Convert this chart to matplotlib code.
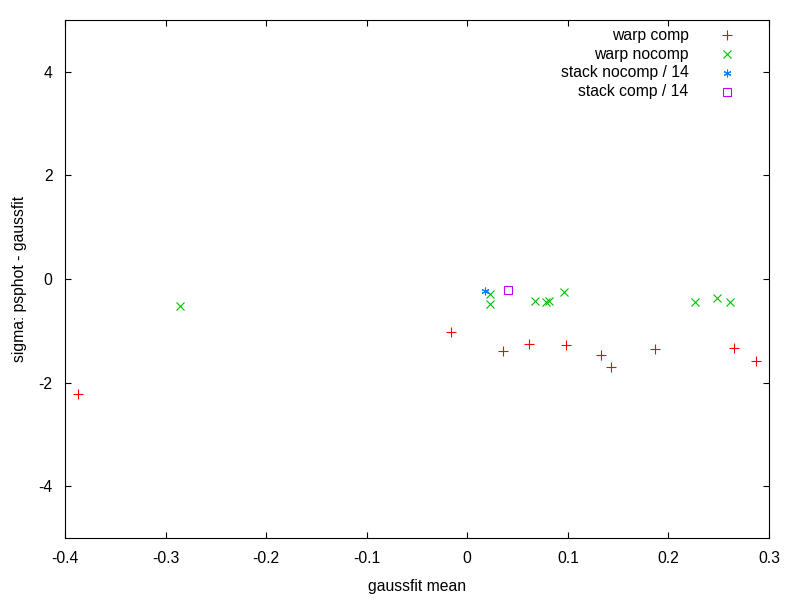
import matplotlib
matplotlib.use("Agg")
import matplotlib.pyplot as plt

# values
warp_comp_x = [-0.387, -0.016, 0.036, 0.061, 0.098, 0.133, 0.143, 0.187, 0.265, 0.287]
warp_comp_y = [-2.22, -1.02, -1.39, -1.26, -1.28, -1.47, -1.70, -1.35, -1.33, -1.58]

warp_nocomp_x = [-0.286, 0.023, 0.023, 0.067, 0.078, 0.081, 0.096, 0.226, 0.248, 0.261]
warp_nocomp_y = [-0.53, -0.28, -0.49, -0.43, -0.44, -0.42, -0.26, -0.45, -0.37, -0.45]

stack_nocomp_x = [0.018]
stack_nocomp_y = [-0.24]

stack_comp_x = [0.040]
stack_comp_y = [-0.22]

labels = ["warp comp", "warp nocomp", "stack nocomp / 14", "stack comp / 14"]
colors = ["#ff0000", "#00c000", "#0080ff", "#c000ff"]

xticks = [-0.4, -0.3, -0.2, -0.1, 0, 0.1, 0.2, 0.3]
yticks = [-4, -2, 0, 2, 4]

plt.rcParams["font.family"] = ["Liberation Sans", "DejaVu Sans"]
plt.rcParams["font.size"] = 11.3

fig = plt.figure(figsize=(8, 6), dpi=100)
ax = fig.add_axes([0.08125, 0.1033, 0.88, 0.8634])

ms = 6.5
mew = 0.8
styles = [
    dict(marker="+", ms=ms, mew=mew, mfc="none"),
    dict(marker="x", ms=ms * 0.85, mew=mew, mfc="none"),
    dict(marker=(6, 2, 0), ms=ms * 0.85, mew=mew, mfc="none"),
    dict(marker="s", ms=ms * 0.8, mew=mew, mfc="none"),
]

series = [
    (warp_comp_x, warp_comp_y),
    (warp_nocomp_x, warp_nocomp_y),
    (stack_nocomp_x, stack_nocomp_y),
    (stack_comp_x, stack_comp_y),
]

for (xs, ys), c, st in zip(series, colors, styles):
    ax.plot(xs, ys, ls="none", color=c, mec=c, **st)

ax.set_xlim(-0.4, 0.3)
ax.set_ylim(-5, 5)
ax.set_xticks(xticks)
ax.set_xticklabels(["-0.4", "-0.3", "-0.2", "-0.1", "0", "0.1", "0.2", "0.3"])
ax.set_yticks(yticks)
ax.set_yticklabels([str(v) for v in yticks])
ax.tick_params(direction="in", top=True, right=True, length=4.5, width=0.8)
ax.tick_params(axis="y", pad=9)
ax.tick_params(axis="x", pad=9)
for sp in ax.spines.values():
    sp.set_linewidth(0.8)

ax.set_xlabel("gaussfit mean", labelpad=10)
ax.set_ylabel("sigma: psphot - gaussfit", labelpad=8)

# gnuplot style key: text right aligned, marker on the right
key_y = [0.971, 0.934, 0.898, 0.861]
for lab, c, st, ky in zip(labels, colors, styles, key_y):
    ax.text(0.886, ky, lab, transform=ax.transAxes, ha="right", va="center")
    ax.plot([0.940], [ky], transform=ax.transAxes, ls="none", color=c, mec=c,
            clip_on=False, **st)

fig.savefig("out.png", dpi=100)
